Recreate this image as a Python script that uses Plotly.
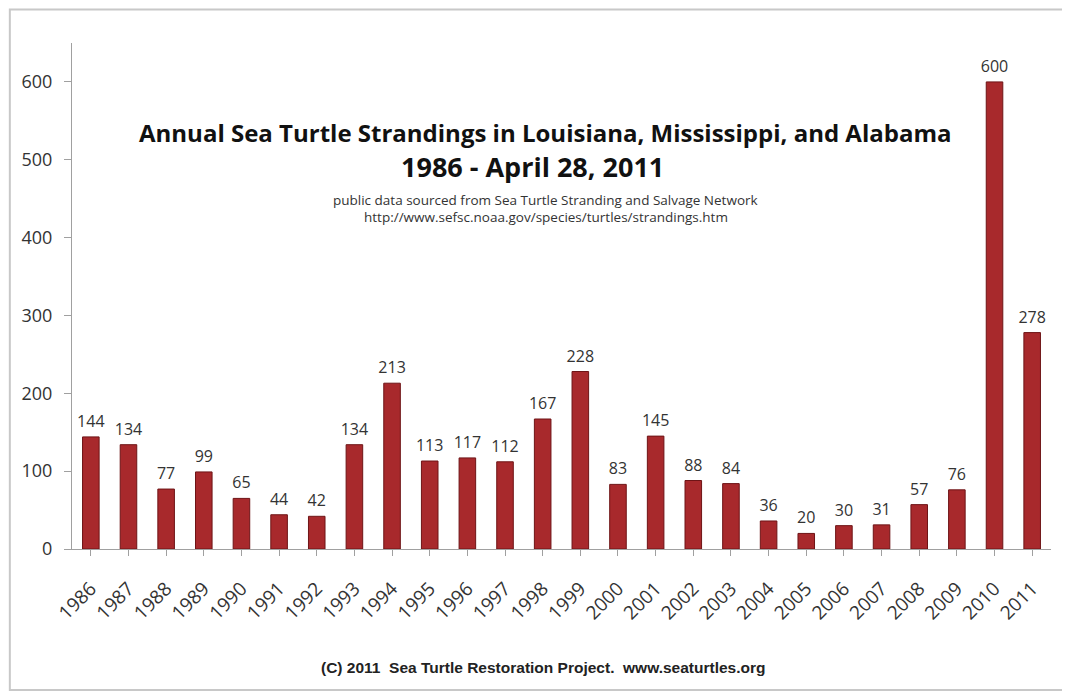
import plotly.graph_objects as go

years = [str(y) for y in range(1986, 2012)]
strandings = [144, 134, 77, 99, 65, 44, 42, 134, 213, 113, 117, 112, 167, 228,
              83, 145, 88, 84, 36, 20, 30, 31, 57, 76, 600, 278]
y_ticks = [0, 100, 200, 300, 400, 500, 600]

title_main = "Annual Sea Turtle Strandings in Louisiana, Mississippi, and Alabama"
title_sub = "1986 - April 28, 2011"
source1 = "public data sourced from Sea Turtle Stranding and Salvage Network"
source2 = "http://www.sefsc.noaa.gov/species/turtles/strandings.htm"
footer = "(C) 2011  Sea Turtle Restoration Project.  www.seaturtles.org"

FONT = "'Open Sans', Lato, sans-serif"

fig = go.Figure()
fig.add_trace(go.Bar(
    x=years, y=strandings,
    width=0.44,
    marker=dict(color="#a8292c", line=dict(color="#6e1416", width=1)),
    hoverinfo="x+y",
))
fig.add_trace(go.Scatter(
    x=years, y=strandings,
    mode="markers+text",
    marker=dict(size=8, opacity=0),
    text=[str(v) for v in strandings],
    textposition="top center",
    textfont=dict(size=16, color="#333333", family=FONT),
    cliponaxis=False,
    hoverinfo="skip",
))

# page body has an 8px margin: shrink figure so it fits the 1070x698 window
fig.update_layout(
    width=1062, height=690,
    margin=dict(l=64, r=19, t=35, b=149),
    paper_bgcolor="white", plot_bgcolor="white",
    showlegend=False,
    font=dict(family=FONT, color="#333333"),
)
fig.update_yaxes(
    range=[0, 650], tickvals=y_ticks, showgrid=False, zeroline=False,
    showline=True, linecolor="#a0a0a0", linewidth=1,
    ticks="outside", ticklen=7, tickcolor="#a0a0a0",
    ticklabelstandoff=8,
    tickfont=dict(size=18, color="#333333", family=FONT),
)
fig.update_xaxes(
    range=[-0.5, len(years) - 0.5],
    showgrid=False, showline=True, linecolor="#a0a0a0", linewidth=1,
    ticks="outside", ticklen=6, tickcolor="#a0a0a0", tickangle=-45,
    ticklabelstandoff=14,
    tickfont=dict(size=19, color="#333333", family=FONT),
)

fig.add_shape(type="rect", xref="paper", yref="paper",
              x0=-0.0635, x1=1.0153, y0=-0.2787, y1=1.066,
              line=dict(color="#c8c8c8", width=2), fillcolor="rgba(0,0,0,0)")

def ann(text, x, y, size, bold=False, family=FONT, color="#111111"):
    fig.add_annotation(text=f"<b>{text}</b>" if bold else text,
                       xref="paper", yref="paper", x=x, y=y,
                       showarrow=False, xanchor="center", yanchor="middle",
                       font=dict(size=size, family=family, color=color))

ann(title_main, 0.483, 0.824, 24, bold=True)
ann(title_sub, 0.470, 0.755, 27, bold=True)
ann(source1, 0.484, 0.690, 13.5, color="#333333")
ann(source2, 0.484, 0.656, 13.5, color="#333333")
ann(footer, 0.481, -0.235, 15.5, bold=True,
    family="'Liberation Sans', Arial, sans-serif", color="#222222")

fig.write_html("out.html")
